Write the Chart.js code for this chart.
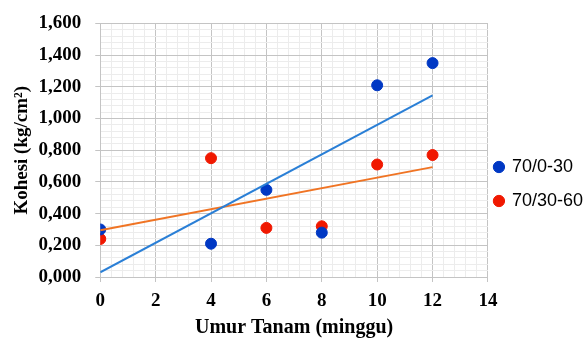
<!DOCTYPE html>
<html>
<head>
<meta charset="utf-8">
<script src="https://cdn.jsdelivr.net/npm/chart.js@4.4.1/dist/chart.umd.min.js"></script>
<style>
  html, body { margin: 0; padding: 0; background: #fff; }
  #wrap { width: 588px; height: 340px; }
</style>
</head>
<body>
<div id="wrap"><canvas id="kohesi"></canvas></div>
<script>
// data
const weeks = [0, 4, 6, 8, 10, 12];
const kohesi_0_30 = [0.30, 0.21, 0.55, 0.28, 1.21, 1.35];
const kohesi_30_60 = [0.24, 0.75, 0.31, 0.32, 0.71, 0.77];
const series_names = ['70/0-30', '70/30-60'];
const marker_colors = ['#0038c4', '#f01800'];
const trend_colors = ['#2a7fd6', '#f07424'];

// least squares line, evaluated at the first and last week (like an Excel trendline)
function trendline(xs, ys) {
    const n = xs.length;
    const mx = xs.reduce((a, b) => a + b, 0) / n;
    const my = ys.reduce((a, b) => a + b, 0) / n;
    let sxy = 0, sxx = 0;
    for (let i = 0; i < n; i++) {
        sxy += (xs[i] - mx) * (ys[i] - my);
        sxx += (xs[i] - mx) * (xs[i] - mx);
    }
    const slope = sxy / sxx;
    const icept = my - slope * mx;
    const x0 = Math.min(...xs), x1 = Math.max(...xs);
    return [{x: x0, y: icept + slope * x0}, {x: x1, y: icept + slope * x1}];
}

function toPoints(xs, ys) {
    return xs.map((x, i) => ({x: x, y: ys[i]}));
}

function isMajor(v, step) {
    return Math.abs(v / step - Math.round(v / step)) < 1e-6;
}

const serif = "'Liberation Serif', 'Times New Roman', serif";

// pull the legend a bit closer to the plot
const legendNudge = {
    id: 'legendNudge',
    afterLayout(chart) {
        chart.legend.left -= 9;
        chart.legend.right -= 9;
    }
};

const ctx = document.getElementById('kohesi');
new Chart(ctx, {
    type: 'scatter',
    plugins: [legendNudge],
    data: {
        datasets: [{
            label: series_names[0],
            data: toPoints(weeks, kohesi_0_30),
            backgroundColor: marker_colors[0],
            borderColor: marker_colors[0],
            pointRadius: 5.5,
            order: 1
        }, {
            label: series_names[1],
            data: toPoints(weeks, kohesi_30_60),
            backgroundColor: marker_colors[1],
            borderColor: marker_colors[1],
            pointRadius: 5.5,
            order: 1
        }, {
            type: 'line',
            label: 'trend1',
            data: trendline(weeks, kohesi_0_30),
            borderColor: trend_colors[0],
            borderWidth: 2,
            pointRadius: 0,
            order: 0
        }, {
            type: 'line',
            label: 'trend2',
            data: trendline(weeks, kohesi_30_60),
            borderColor: trend_colors[1],
            borderWidth: 2,
            pointRadius: 0,
            order: 0
        }]
    },
    options: {
        responsive: true,
        maintainAspectRatio: false,
        animation: false,
        layout: {padding: {left: 8, right: -14, top: 4, bottom: 0}},
        scales: {
            x: {
                type: 'linear',
                min: 0, max: 14,
                title: {display: true, text: 'Umur Tanam (minggu)', color: '#000',
                        font: {family: serif, size: 20, weight: 'bold', lineHeight: 0.7},
                        padding: {top: 0, bottom: 5}},
                ticks: {
                    stepSize: 0.4, autoSkip: false, maxRotation: 0, padding: 10, color: '#000',
                    font: {family: serif, size: 19, weight: 'bold', lineHeight: 1},
                    callback: v => isMajor(v, 2) ? String(Math.round(v)) : ''
                },
                grid: {
                    color: c => isMajor(c.tick.value, 2) ? '#c4c4c4' : '#ececec',
                    tickColor: c => isMajor(c.tick.value, 2) ? '#c4c4c4' : 'rgba(0,0,0,0)',
                    tickLength: 5
                },
                border: {color: '#c4c4c4'}
            },
            y: {
                min: 0, max: 1.6,
                title: {display: true, text: 'Kohesi (kg/cm²)', color: '#000',
                        font: {family: serif, size: 19, weight: 'bold', lineHeight: 1},
                        padding: {top: 4.5, bottom: -7}},
                ticks: {
                    stepSize: 0.04, autoSkip: false, padding: 14, color: '#000',
                    font: {family: serif, size: 19, weight: 'bold', lineHeight: 1},
                    callback: v => isMajor(v, 0.2) ? v.toFixed(3).replace('.', ',') : ''
                },
                grid: {
                    color: c => isMajor(c.tick.value, 0.2) ? '#c4c4c4' : '#ececec',
                    tickColor: c => isMajor(c.tick.value, 0.2) ? '#c4c4c4' : 'rgba(0,0,0,0)',
                    tickLength: 5
                },
                border: {color: '#c4c4c4'}
            }
        },
        plugins: {
            legend: {
                position: 'right',
                title: {display: true, text: ' ', padding: 0, font: {size: 20}},
                labels: {
                    usePointStyle: true, pointStyle: 'circle',
                    boxWidth: 8, boxHeight: 8, padding: 16, color: '#000',
                    font: {family: "'Liberation Sans', Arial, sans-serif", size: 18},
                    filter: item => item.datasetIndex < 2
                }
            },
            tooltip: {enabled: false}
        }
    }
});
</script>
</body>
</html>
